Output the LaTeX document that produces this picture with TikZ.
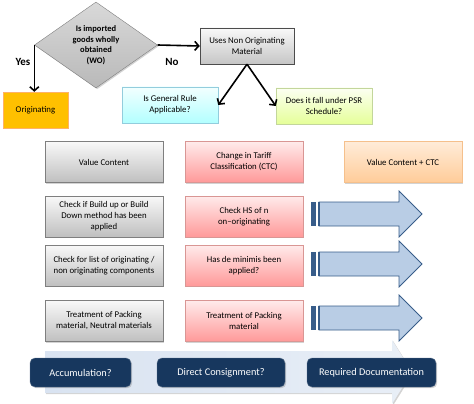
\documentclass[tikz,border=0pt]{standalone}
\usepackage{fontspec}
\setmainfont{Carlito}
\usetikzlibrary{shapes.geometric,arrows.meta,shadows}
\definecolor{grayline}{HTML}{7F7F7F}
\definecolor{pinkline}{HTML}{D99694}
\definecolor{orangeline}{HTML}{F5C08C}
\definecolor{blueline}{HTML}{93CDDD}
\definecolor{greenline}{HTML}{C3D69B}
\definecolor{arrowfill}{HTML}{B9CDE5}
\definecolor{arrowline}{HTML}{385D8A}
\definecolor{navy}{HTML}{17375E}
\definecolor{band}{HTML}{D9E3F1}
\begin{document}
\begin{tikzpicture}[x=1pt,y=-1pt,
	every node/.style={font=\fontsize{8.8}{11}\selectfont,align=center,inner sep=0pt},
	shade/.style={drop shadow={shadow xshift=1.2pt,shadow yshift=-1.2pt,opacity=.35}},
	box/.style={draw,rectangle,minimum width=118,minimum height=41,shade},
	graybox/.style={box,draw=grayline,top color=gray!5,bottom color=gray!50},
	pinkbox/.style={box,draw=pinkline,top color=red!8,bottom color=red!40},
	smallbox/.style={draw,rectangle,minimum width=96,minimum height=36,shade},
	navybox/.style={draw=navy!70,fill=navy,rounded corners=5pt,minimum height=29,
		text=white,font=\fontsize{10.3}{12}\selectfont,shade},
	flow/.style={line width=1.6pt,-{Straight Barb[length=4pt,width=9pt]}},
	yesno/.style={font=\bfseries\fontsize{11}{13}\selectfont}]
	\useasboundingbox (0,0) rectangle (474,404);
	% top part
	\node[diamond,draw=grayline,top color=gray!30,bottom color=gray!55,shade,
		minimum width=123,minimum height=86,font=\bfseries\fontsize{8.5}{10.5}\selectfont]
		(wo) at (96,45) {Is imported\\goods wholly\\obtained\\(WO)};
	\node[draw=orange!60,fill={rgb,255:red,255;green,192;blue,0},minimum width=65,minimum height=36,shade]
		(orig) at (35.5,110) {Originating};
	\node[draw=black!70,top color=gray!5,bottom color=gray!45,minimum width=94,minimum height=36,shade]
		(uses) at (247,46) {Uses Non Originating\\Material};
	\node[smallbox,draw=blueline,top color=cyan!5,bottom color=cyan!30] (gen) at (170,105)
		{Is General Rule\\Applicable?};
	\node[smallbox,draw=greenline,top color=lime!5,bottom color=lime!40] (psr) at (324,106)
		{Does it fall under PSR\\Schedule?};
	\draw[flow] (wo.west) -- (wo.west |- orig.north);
	\draw[flow] (wo.east) -- (uses.west);
	\draw[flow] (uses.south) -- (gen.east);
	\draw[flow] (uses.south) -- (psr.west);
	\node[yesno] (yes) at (23,62) {Yes};
	\node[yesno] (no) at (172,62) {No};
	% columns
	\node[graybox] (g1) at (104,162) {Value Content};
	\node[graybox] (g2) at (104,216.5) {Check if Build up or Build\\Down method has been\\applied};
	\node[graybox] (g3) at (104,265.5) {Check for list of originating /\\non originating components};
	\node[graybox] (g4) at (104,321) {Treatment of Packing\\material, Neutral materials};
	\node[pinkbox] (p1) at (244,162) {Change in Tariff\\Classification (CTC)};
	\node[pinkbox] (p2) at (244,216.5) {Check HS of n\\on--originating};
	\node[pinkbox] (p3) at (244,265.5) {Has de minimis been\\applied?};
	\node[pinkbox] (p4) at (244,321) {Treatment of Packing\\material};
	\node[box,draw=orangeline,top color=orange!15,bottom color=orange!40] (o1) at (403,162)
		{Value Content + CTC};
	% striped arrows
	\foreach \y in {214,264,318}{
		\draw[arrowline,fill=arrowfill,line width=.8pt,line join=miter]
			(319,\y-12) -- (399,\y-12) -- (399,\y-23) -- (422,\y) -- (399,\y+23)
			-- (399,\y+12) -- (319,\y+12) -- cycle;
		\fill[arrowline] (311,\y-12) rectangle (316,\y+12);
		\fill[arrowline] (317.5,\y-12) rectangle (319.5,\y+12);
	}
	% bottom band
	\shade[left color=band,right color=band!60] (45,351) -- (392,351) -- (392,340) -- (412,372)
		-- (392,404) -- (392,393) -- (45,393) -- cycle;
	\node[navybox,minimum width=101] (acc) at (80.5,372.5) {Accumulation?};
	\node[navybox,minimum width=128] (dc) at (221,372.5) {Direct Consignment?};
	\node[navybox,minimum width=129] (doc) at (371.5,372.5) {Required Documentation};
\end{tikzpicture}
\end{document}
